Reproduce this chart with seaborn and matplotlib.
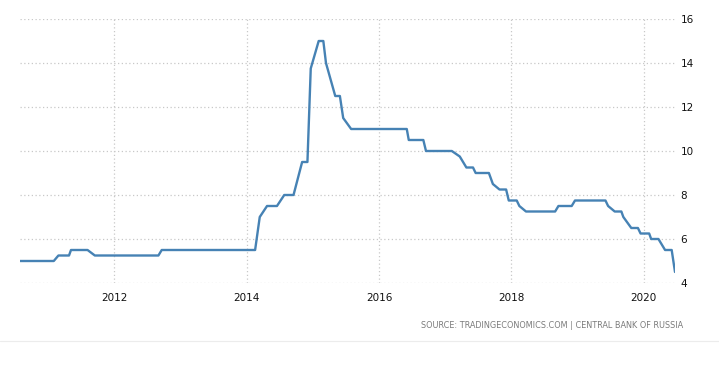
import numpy as np
import pandas as pd
import matplotlib
matplotlib.use("Agg")
import matplotlib.pyplot as plt
from matplotlib.lines import Line2D
import seaborn as sns

# Russia interest rate (decimal year, percent)
years = [2010.58, 2011.09, 2011.16, 2011.32, 2011.35, 2011.60, 2011.71, 2012.67,
         2012.72, 2014.13, 2014.20, 2014.31, 2014.46, 2014.57, 2014.71, 2014.84,
         2014.92, 2014.97, 2015.09, 2015.16, 2015.20, 2015.34, 2015.41, 2015.46,
         2015.58, 2016.42, 2016.45, 2016.67, 2016.71, 2017.10, 2017.22, 2017.32,
         2017.42, 2017.46, 2017.66, 2017.72, 2017.82, 2017.92, 2017.96, 2018.08,
         2018.12, 2018.22, 2018.66, 2018.71, 2018.91, 2018.96, 2019.42, 2019.46,
         2019.56, 2019.66, 2019.69, 2019.81, 2019.91, 2019.95, 2020.08, 2020.11,
         2020.22, 2020.32, 2020.42, 2020.47]
rates = [5.0, 5.0, 5.25, 5.25, 5.5, 5.5, 5.25, 5.25,
         5.5, 5.5, 7.0, 7.5, 7.5, 8.0, 8.0, 9.5,
         9.5, 13.75, 15.0, 15.0, 14.0, 12.5, 12.5, 11.5,
         11.0, 11.0, 10.5, 10.5, 10.0, 10.0, 9.75, 9.25,
         9.25, 9.0, 9.0, 8.5, 8.25, 8.25, 7.75, 7.75,
         7.5, 7.25, 7.25, 7.5, 7.5, 7.75, 7.75, 7.5,
         7.25, 7.25, 7.0, 6.5, 6.5, 6.25, 6.25, 6.0,
         6.0, 5.5, 5.5, 4.5]

x_ticks = [2012, 2014, 2016, 2018, 2020]
y_ticks = [4, 6, 8, 10, 12, 14, 16]
source = "SOURCE: TRADINGECONOMICS.COM | CENTRAL BANK OF RUSSIA"

df = pd.DataFrame({"year": years, "rate": rates})

sns.set_style("white")
plt.rcParams["font.family"] = ["DejaVu Sans"]

fig = plt.figure(figsize=(7.19, 3.77), dpi=100)
ax = fig.add_axes([20 / 719, 1 - 283 / 377, 655 / 719, 264 / 377])

sns.lineplot(data=df, x="year", y="rate", ax=ax, color="#4682b4",
             linewidth=1.7, sort=False)

ax.set_xlim(2010.58, 2020.47)
ax.set_ylim(4, 16)
ax.set_xticks(x_ticks)
ax.set_yticks(y_ticks)
ax.set_xticklabels([str(t) for t in x_ticks])
ax.set_yticklabels([str(t) for t in y_ticks])
ax.yaxis.tick_right()
ax.tick_params(axis="both", length=0, labelsize=7.5, colors="#111111")
ax.tick_params(axis="y", pad=4)
ax.tick_params(axis="x", pad=7)
ax.grid(True, color="#c8c8c8", linestyle=(0, (1, 2)), linewidth=0.9)
ax.set_xlabel("")
ax.set_ylabel("")
for s in ax.spines.values():
    s.set_visible(False)

fig.text(683 / 719, 1 - 326 / 377, source, ha="right", va="center",
         fontsize=5.9, color="#7a7a7a")
fig.add_artist(Line2D([0, 1], [1 - 341 / 377, 1 - 341 / 377],
                      transform=fig.transFigure, color="#ececec", linewidth=0.8))

fig.savefig("out.png", dpi=100)
